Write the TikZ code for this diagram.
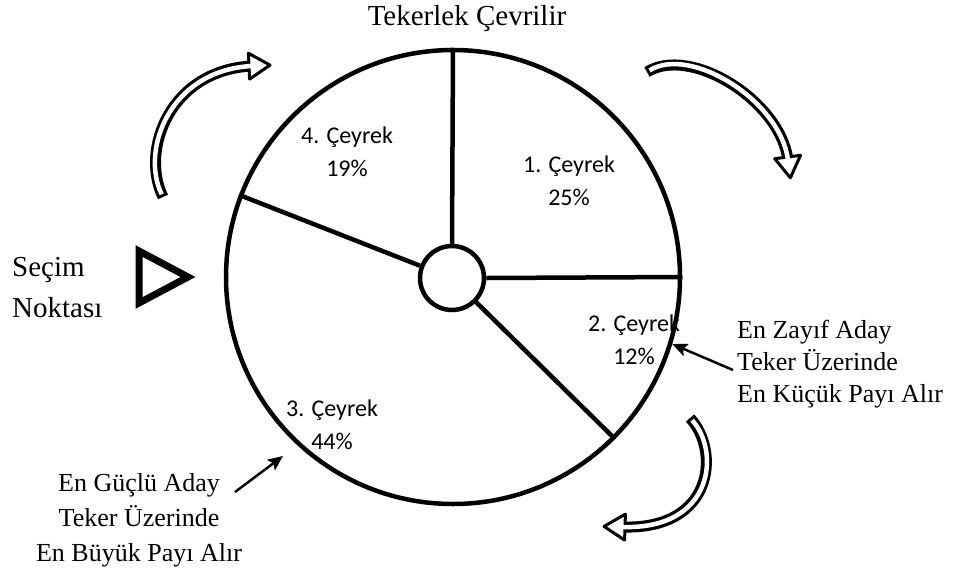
\documentclass[tikz,border=0pt]{standalone}
\usepackage{fontspec}
\setmainfont{Liberation Serif}
\newfontfamily\carlito{Carlito}
\usetikzlibrary{arrows.meta}

\begin{document}
\begin{tikzpicture}[x=1pt,y=-1pt,
  wheel/.style={circle, draw, line width=4.5pt, minimum size=454pt, inner sep=0pt},
  hub/.style={circle, draw, line width=4.5pt, minimum size=64pt, inner sep=0pt, fill=white},
  spoke/.style={line width=4.5pt},
  quarter/.style={font=\carlito\fontsize{24}{33}\selectfont, align=center, inner sep=0pt},
  caption/.style={font=\fontsize{26}{32}\selectfont, inner sep=0pt},
  pointer/.style={-{Stealth[length=15pt,width=13pt,inset=3pt]}, line width=2.5pt},
  band/.style={line width=11pt, line cap=butt},
  bandcore/.style={draw=white, line width=4.5pt, line cap=butt, shorten <=3pt},
  bandhead/.style={line width=3pt, fill=white, line join=round}
]
\useasboundingbox (0,0) rectangle (958,571);

% the wheel, its hub and the four spokes
\node[wheel] (wheel) at (453,277) {};
\node[hub] (hub) at (452,278) {};
\draw[spoke] (hub.90) -- (wheel.90);
\draw[spoke] (hub.0) -- (wheel.0);
\draw[spoke] (hub.-45) -- (wheel.-45);
\draw[spoke] (hub.159.5) -- (wheel.159.5);

% sector labels
\node[quarter] (q4) at (347,152) {4. Çeyrek\\19\%};
\node[quarter] (q1) at (569,181) {1. Çeyrek\\25\%};
\node[quarter] (q2) at (634,340) {2. Çeyrek\\12\%};
\node[quarter] (q3) at (332,425) {3. Çeyrek\\44\%};

% title and selection marker
\node[caption, font=\fontsize{29}{34}\selectfont] (title) at (467,19) {Tekerlek Çevrilir};
\node[caption, font=\fontsize{29}{41}\selectfont, align=left, anchor=west] (pick) at (12,288) {Seçim\\Noktası};
\draw[line width=7pt, line join=miter] (139,251) -- (188,277) -- (139,303) -- cycle;

% annotations with pointers
\node[caption, align=left, anchor=west] (weak) at (737,364) {En Zayıf Aday\\Teker Üzerinde\\En Küçük Payı Alır};
\coordinate (weaktail) at (733,370);
\draw[pointer] (weaktail) -- (wheel.-17);

\node[caption, font=\fontsize{26}{35}\selectfont, align=center] (strong) at (139,520) {En Güçlü Aday\\Teker Üzerinde\\En Büyük Payı Alır};
\coordinate (strongtail) at (235,492);
\coordinate (strongtip) at (283,456);
\draw[pointer] (strongtail) -- (strongtip);

% rotation arrows around the wheel: outlined band, head, hollow core
\draw[band] (163,197) .. controls (140,150) and (170,70) .. (252,66);
\draw[bandhead] (249.6,79.1) -- (270.0,65.1) -- (248.4,53.2) -- cycle;
\draw[bandcore] (163,197) .. controls (140,150) and (170,70) .. (252,66);

\draw[band] (647,72) .. controls (690,45) and (780,100) .. (788,160);
\draw[bandhead] (800.5,155.3) -- (790.4,177.8) -- (774.7,158.7) -- cycle;
\draw[bandcore] (647,72) .. controls (690,45) and (780,100) .. (788,160);

\draw[band] (690,418) .. controls (720,450) and (715,530) .. (622,527);
\draw[bandhead] (625.4,514.1) -- (604.0,526.4) -- (624.6,540.1) -- cycle;
\draw[bandcore] (690,418) .. controls (720,450) and (715,530) .. (622,527);
\end{tikzpicture}
\end{document}
